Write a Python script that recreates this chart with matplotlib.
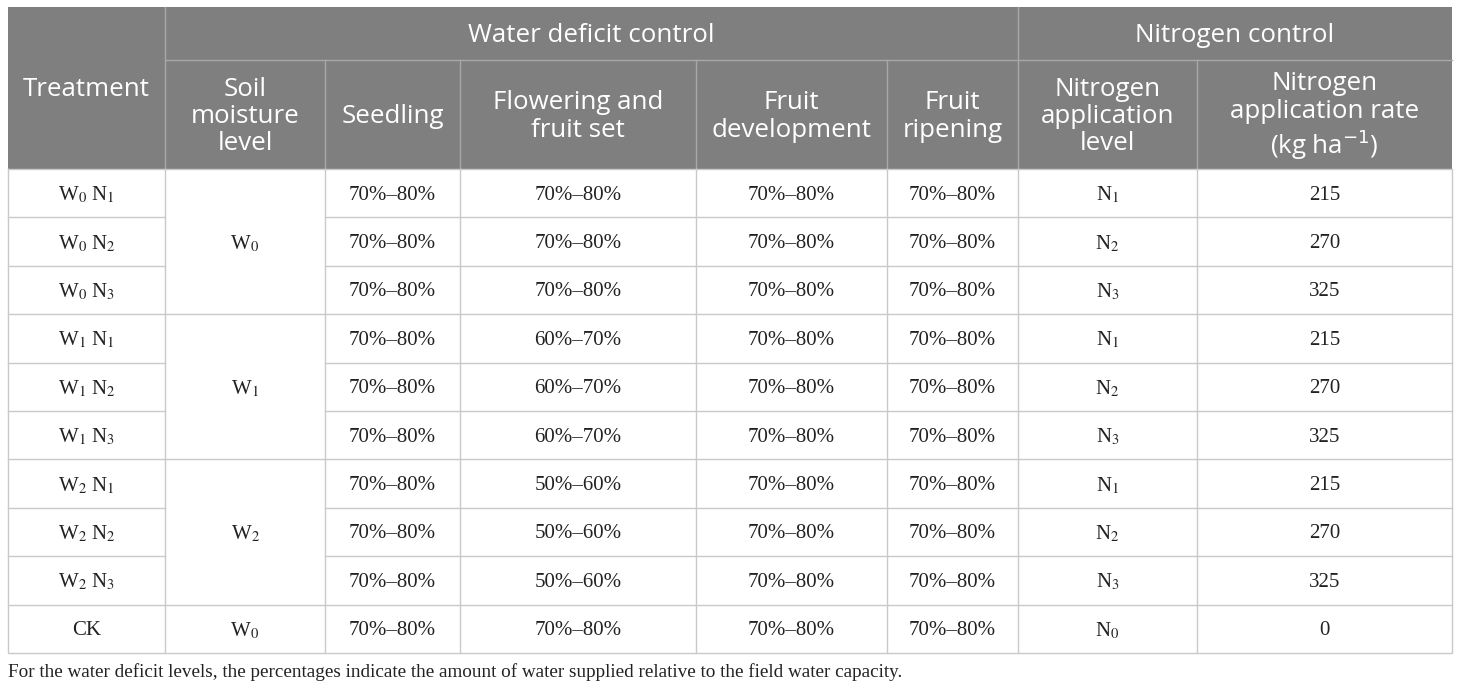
import matplotlib
matplotlib.use("Agg")
import matplotlib.pyplot as plt
from matplotlib.patches import Rectangle

# table content
group_heads = ["Water deficit control", "Nitrogen control"]
col_heads = ["Soil\nmoisture\nlevel", "Seedling", "Flowering and\nfruit set",
             "Fruit\ndevelopment", "Fruit\nripening", "Nitrogen\napplication\nlevel",
             "Nitrogen\napplication rate\n(kg ha$^{-1}$)"]
treatments = ["W$_0$ N$_1$", "W$_0$ N$_2$", "W$_0$ N$_3$",
              "W$_1$ N$_1$", "W$_1$ N$_2$", "W$_1$ N$_3$",
              "W$_2$ N$_1$", "W$_2$ N$_2$", "W$_2$ N$_3$", "CK"]
soil_groups = [("W$_0$", 0, 3), ("W$_1$", 3, 6), ("W$_2$", 6, 9), ("W$_0$", 9, 10)]
seedling = ["70%–80%"] * 10
flowering = ["70%–80%"] * 3 + ["60%–70%"] * 3 + ["50%–60%"] * 3 + ["70%–80%"]
fruit_dev = ["70%–80%"] * 10
ripening = ["70%–80%"] * 10
n_level = ["N$_1$", "N$_2$", "N$_3$"] * 3 + ["N$_0$"]
n_rate = ["215", "270", "325"] * 3 + ["0"]
footnote = ("For the water deficit levels, the percentages indicate the amount "
            "of water supplied relative to the field water capacity.")

# layout in pixels
xs = [8, 165, 325, 460, 696, 887, 1018, 1197, 1452]
top, mid, head_bot = 7, 60, 169
row_h = 48.4
n_rows = len(treatments)
bottom = head_bot + row_h * n_rows

header_bg = "#7f7f7f"
head_line = "#a8a8a8"
body_line = "#c9c9c9"
txt = "#222222"
hfont = dict(family="Open Sans", color="white", fontsize=18.6, linespacing=1.13,
             math_fontfamily="dejavusans", ha="center", va="center")
bfont = dict(family="Liberation Serif", color=txt, fontsize=15,
             math_fontfamily="stix", ha="center", va="center")

fig = plt.figure(figsize=(14.6, 6.9), dpi=100)
ax = fig.add_axes([0, 0, 1, 1])
ax.set_xlim(0, 1460)
ax.set_ylim(690, 0)
ax.axis("off")

ax.add_patch(Rectangle((xs[0], top), xs[-1] - xs[0], head_bot - top,
                       facecolor=header_bg, edgecolor="none"))

# header lines
lw = 1.0
ax.plot([xs[1], xs[-1]], [mid, mid], color=head_line, lw=lw)
ax.plot([xs[1], xs[1]], [top, head_bot], color=head_line, lw=lw)
ax.plot([xs[6], xs[6]], [top, head_bot], color=head_line, lw=lw)
for x in xs[2:6] + xs[7:8]:
    ax.plot([x, x], [mid, head_bot], color=head_line, lw=lw)

ax.text((xs[0] + xs[1]) / 2, (top + head_bot) / 2 + 2, "Treatment", **hfont)
ax.text((xs[1] + xs[6]) / 2, (top + mid) / 2 + 2, group_heads[0], **hfont)
ax.text((xs[6] + xs[8]) / 2, (top + mid) / 2 + 2, group_heads[1], **hfont)
for i, h in enumerate(col_heads):
    ax.text((xs[i + 1] + xs[i + 2]) / 2, (mid + head_bot) / 2 + 2, h, **hfont)

# body
ax.plot([xs[0], xs[-1], xs[-1], xs[0], xs[0]],
        [head_bot, head_bot, bottom, bottom, head_bot], color=body_line, lw=lw)
for x in xs[1:-1]:
    ax.plot([x, x], [head_bot, bottom], color=body_line, lw=lw)
for r in range(1, n_rows):
    y = head_bot + r * row_h
    if r in (3, 6, 9):
        ax.plot([xs[0], xs[-1]], [y, y], color=body_line, lw=lw)
    else:
        ax.plot([xs[0], xs[1]], [y, y], color=body_line, lw=lw)
        ax.plot([xs[2], xs[-1]], [y, y], color=body_line, lw=lw)

cols = [treatments, None, seedling, flowering, fruit_dev, ripening, n_level, n_rate]
for r in range(n_rows):
    yc = head_bot + (r + 0.5) * row_h + 2
    for c, vals in enumerate(cols):
        if vals is None:
            continue
        ax.text((xs[c] + xs[c + 1]) / 2, yc, vals[r], **bfont)
for label, r0, r1 in soil_groups:
    yc = head_bot + (r0 + r1) / 2 * row_h + 2
    ax.text((xs[1] + xs[2]) / 2, yc, label, **bfont)

ax.text(xs[0], bottom + 19, footnote, family="Liberation Serif", color=txt,
        fontsize=13.8, ha="left", va="center")

fig.savefig("out.png", dpi=100)
